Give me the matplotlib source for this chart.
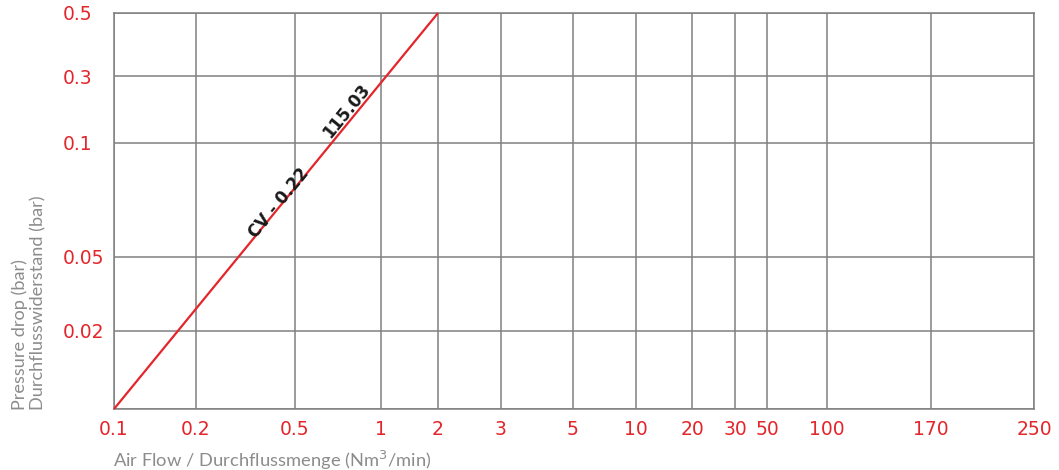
import numpy as np
import matplotlib
matplotlib.use("Agg")
import matplotlib.pyplot as plt

# ---- data ----
x_ticks = [0.1, 0.2, 0.5, 1, 2, 3, 5, 10, 20, 30, 50, 100, 170, 250]
x_labels = ["0.1", "0.2", "0.5", "1", "2", "3", "5", "10", "20", "30", "50", "100", "170", "250"]
y_ticks = [0, 0.02, 0.05, 0.1, 0.3, 0.5]
y_labels = ["", "0.02", "0.05", "0.1", "0.3", "0.5"]
flow = [0.1, 2]
pressure = [0, 0.5]
label_top = "115.03"
label_cv = "CV - 0.22"

# ---- layout (grid spacing of the printed chart, in pixels) ----
x_grid_pos = np.array([114, 196, 295, 381, 438, 501, 573, 636, 692, 735, 767, 827, 931, 1034], float) - 114
y_grid_pos = 409 - np.array([409, 331, 257, 143, 76, 13], float)

def fx(v):
    return np.interp(v, x_ticks, x_grid_pos)
def ix(p):
    return np.interp(p, x_grid_pos, x_ticks)
def fy(v):
    return np.interp(v, y_ticks, y_grid_pos)
def iy(p):
    return np.interp(p, y_grid_pos, y_ticks)

RED = "#e3262b"
GRID = "#808080"
GRAYTXT = "#8c8c8c"
plt.rcParams['font.family'] = ['DejaVu Sans']

W, H = 1059, 470
fig = plt.figure(figsize=(W / 100, H / 100), dpi=100)
ax = fig.add_axes([114 / W, (H - 409) / H, (1034 - 114) / W, (409 - 13) / H])
ax.set_xscale('function', functions=(fx, ix))
ax.set_yscale('function', functions=(fy, iy))
ax.set_xlim(x_ticks[0], x_ticks[-1])
ax.set_ylim(y_ticks[0], y_ticks[-1])

ax.set_xticks(x_ticks)
ax.set_xticklabels(x_labels)
ax.set_yticks(y_ticks)
ax.set_yticklabels(y_labels)
ax.xaxis.set_minor_locator(matplotlib.ticker.NullLocator())
ax.yaxis.set_minor_locator(matplotlib.ticker.NullLocator())
ax.tick_params(axis='both', length=0, colors=RED, labelsize=13.5)
ax.tick_params(axis='x', pad=8)
ax.tick_params(axis='y', pad=51 * 0.72)
for lab in ax.get_yticklabels():
    lab.set_horizontalalignment('left')
ax.grid(True, color=GRID, linewidth=1.1)
for s in ax.spines.values():
    s.set_color(GRID)
    s.set_linewidth(1.1)

ax.plot(flow, pressure, color=RED, linewidth=1.6, solid_capstyle='butt', clip_on=False, zorder=3)

angle = np.degrees(np.arctan2(409 - 13, 438 - 114))
ax.text(0.80, 0.195, label_top, rotation=angle, rotation_mode='anchor',
        ha='center', va='center', fontsize=12, fontweight='bold', color='#1a1a1a')
ax.text(0.452, 0.0737, label_cv, rotation=angle, rotation_mode='anchor',
        ha='center', va='center', fontsize=12, fontweight='bold', color='#1a1a1a')

fig.text(113 / W, 1 - 460 / H, "Air Flow / Durchflussmenge (Nm$^3$/min)",
         ha='left', va='center', fontsize=13.2, color=GRAYTXT, family=['Lato', 'DejaVu Sans'])
fig.text(29 / W, 1 - 410 / H, "Pressure drop (bar)\nDurchflusswiderstand (bar)",
         rotation=90, rotation_mode='anchor', ha='left', va='center',
         fontsize=13.1, color=GRAYTXT, linespacing=1.15, multialignment='left',
         family=['Lato', 'DejaVu Sans'])

fig.savefig("out.png", dpi=100)
